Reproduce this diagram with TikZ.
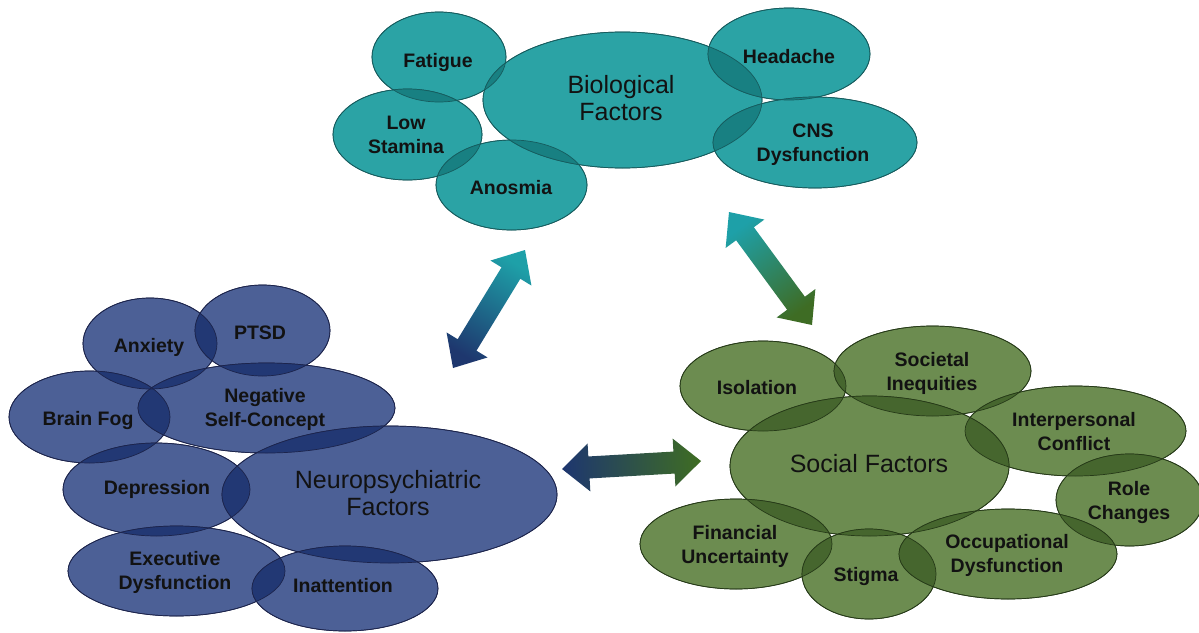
\documentclass[tikz,border=0pt]{standalone}
\usepackage{fontspec}
\setmainfont{Liberation Sans}
\usetikzlibrary{shapes.geometric,calc}
\definecolor{tealF}{RGB}{43,163,165}
\definecolor{tealD}{RGB}{24,128,130}
\definecolor{tealL}{RGB}{22,92,94}
\definecolor{blueF}{RGB}{76,96,150}
\definecolor{blueD}{RGB}{34,56,116}
\definecolor{blueL}{RGB}{28,36,76}
\definecolor{greenF}{RGB}{108,140,80}
\definecolor{greenD}{RGB}{70,102,46}
\definecolor{greenL}{RGB}{38,58,24}
\definecolor{txt}{RGB}{18,18,18}
\definecolor{arTeal}{RGB}{30,160,168}
\definecolor{arBlue}{RGB}{30,55,110}
\definecolor{arGreen}{RGB}{62,108,36}
\tikzset{
  lab/.style={font=\bfseries\fontsize{19.5}{24}\selectfont, text=txt, align=center, inner sep=0pt},
  biglab/.style={font=\fontsize{25}{27}\selectfont, text=txt, align=center, inner sep=0pt},
  outline/.style={line width=0.7pt}
}
\newcommand\drawcluster[4]{%
  \foreach \n/\x/\y/\rx/\ry in {#4} {
    \node[ellipse, inner sep=0pt, fill=#1, draw=#3, outline,
          minimum width=2*\rx pt, minimum height=2*\ry pt] (\n) at (\x,\y) {};
  }
  \foreach \n/\x/\y/\rx/\ry [count=\i] in {#4} {
    \begin{scope}
      \clip (\x,\y) ellipse (\rx pt and \ry pt);
      \foreach \m/\xx/\yy/\rrx/\rry [count=\j] in {#4} {
        \ifnum\j>\i \fill[#2] (\xx,\yy) ellipse (\rrx pt and \rry pt);\fi
      }
    \end{scope}
  }
  \foreach \n/\x/\y/\rx/\ry in {#4} {
    \draw[#3, outline] (\x,\y) ellipse (\rx pt and \ry pt);
  }
}
\newcommand\twoway[5]{%
  \shade[bottom color=#3, top color=#4, shading angle=#5]
    (#1) -- ($(#1)!27pt!(#2)!24pt!90:(#2)$) -- ($(#1)!27pt!(#2)!11pt!90:(#2)$)
    -- ($(#2)!27pt!(#1)!11pt!-90:(#1)$) -- ($(#2)!27pt!(#1)!24pt!-90:(#1)$)
    -- (#2) -- ($(#2)!27pt!(#1)!24pt!90:(#1)$) -- ($(#2)!27pt!(#1)!11pt!90:(#1)$)
    -- ($(#1)!27pt!(#2)!11pt!-90:(#2)$) -- ($(#1)!27pt!(#2)!24pt!-90:(#2)$) -- cycle;
}
\begin{document}
\begin{tikzpicture}[x=1pt,y=-1pt]
\useasboundingbox (0,0) rectangle (1199,632);
\fill[white] (0,0) rectangle (1199,632);

% Biological cluster
\drawcluster{tealF}{tealD}{tealL}{fatigue/439/57/67/45, lowstam/407.5/134.5/74.5/45.5,
  anosmia/511.5/185/75.5/45, bio/622.5/100/139.5/68, headache/789/54/81/46, cns/815/142.5/102/45.5}
% Neuropsychiatric cluster
\drawcluster{blueF}{blueD}{blueL}{anxiety/150/343.5/67/45.5, ptsd/262.5/330.5/67.5/45.5,
  brainfog/89.5/417/80.5/46, negself/266.5/408/128.5/45, depression/156.5/489.5/93.5/46.5,
  neuro/389.5/494.5/167.5/68.5, execdys/176.5/571/108.5/45, inatt/345/588.5/93/42.5}
% Social cluster
\drawcluster{greenF}{greenD}{greenL}{isolation/763/386/83/45, societal/932.5/371/98.5/45,
  interp/1075.5/431/110.5/45, role/1129.5/500/73.5/46, social/869.5/466/139.5/70,
  financial/736/544/96/45, stigma/869/574/67/45, occup/1008/554/109/45}

% labels
\node[lab] (fatigueT) at (438,62) {Fatigue};
\node[lab] (lowstamT) at (406,134.5) {Low\\Stamina};
\node[lab] (anosmiaT) at (511,188) {Anosmia};
\node[biglab] (bioT) at (621,98.5) {Biological\\Factors};
\node[lab] (headacheT) at (789,57) {Headache};
\node[lab] (cnsT) at (813,144.5) {CNS\\Dysfunction};

\node[lab] (anxietyT) at (149,347) {Anxiety};
\node[lab] (ptsdT) at (260,333) {PTSD};
\node[lab] (brainfogT) at (88,420) {Brain Fog};
\node[lab] (negselfT) at (265,409.5) {Negative\\Self-Concept};
\node[lab] (depressionT) at (157,489) {Depression};
\node[biglab] (neuroT) at (388,493.5) {Neuropsychiatric\\Factors};
\node[lab] (execdysT) at (175,572.5) {Executive\\Dysfunction};
\node[lab] (inattT) at (343,586) {Inattention};

\node[lab] (isolationT) at (757,388) {Isolation};
\node[lab] (societalT) at (932,373) {Societal\\Inequities};
\node[lab] (interpT) at (1074,431.5) {Interpersonal\\Conflict};
\node[lab] (roleT) at (1129,502) {Role\\Changes};
\node[biglab] (socialT) at (869,464) {Social Factors};
\node[lab] (financialT) at (735,546.5) {Financial\\Uncertainty};
\node[lab] (stigmaT) at (866,576) {Stigma};
\node[lab] (occupT) at (1007,555.5) {Occupational\\Dysfunction};

% arrows
\coordinate (a1s) at (453,368);
\coordinate (a1e) at (525,250);
\coordinate (a2s) at (812,325);
\coordinate (a2e) at (729,212);
\coordinate (a3s) at (562,469);
\coordinate (a3e) at (701,461);
\twoway{a1s}{a1e}{arBlue}{arTeal}{-31.4}
\twoway{a2s}{a2e}{arGreen}{arTeal}{36.3}
\twoway{a3s}{a3e}{arBlue}{arGreen}{-86.7}
\end{tikzpicture}
\end{document}
